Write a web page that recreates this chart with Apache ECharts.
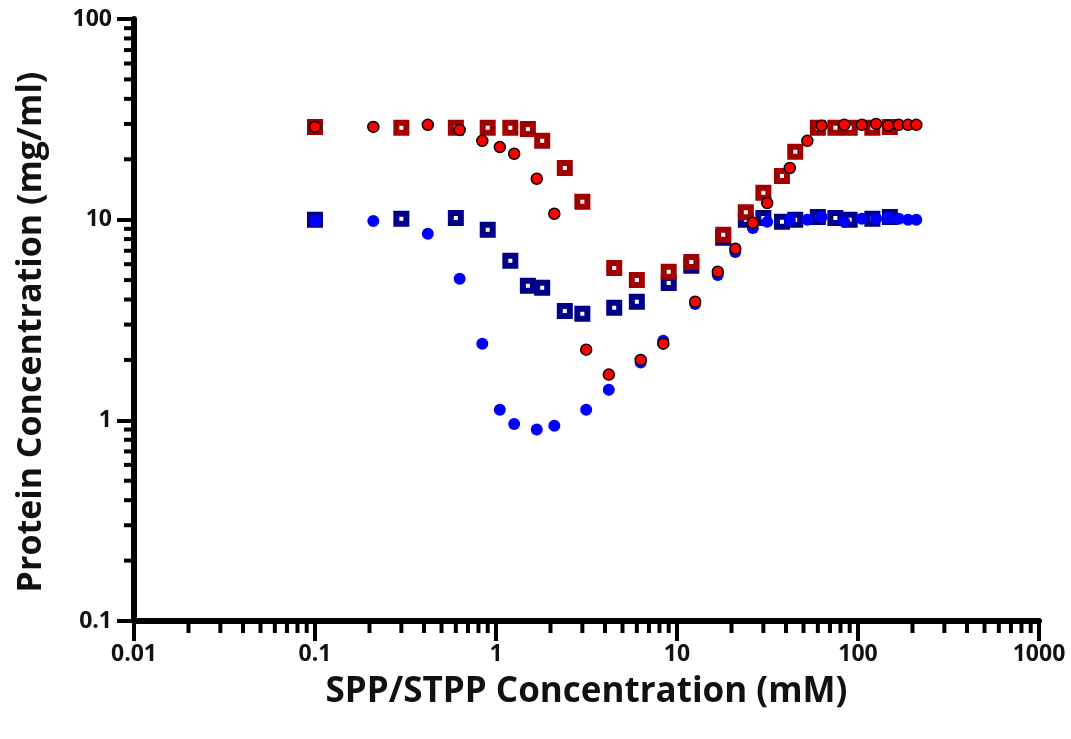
<!DOCTYPE html>
<html>
<head>
<meta charset="utf-8">
<script src="https://cdn.jsdelivr.net/npm/echarts@6/dist/echarts.min.js"></script>
<style>
html,body{margin:0;padding:0;background:#fff;}
#chart{width:1071px;height:739px;}
</style>
</head>
<body>
<div id="chart"></div>
<script>
// ---- data ----
const squareX = [0.1, 0.3, 0.6, 0.9, 1.2, 1.5, 1.8, 2.4, 3, 4.5, 6, 9, 12, 18, 24, 30, 38, 45, 60, 75, 90, 120, 150];
const redSquareY = [29.0, 28.7, 28.7, 28.7, 28.7, 28.3, 24.7, 18.1, 12.3, 5.75, 5.0, 5.5, 6.16, 8.4, 10.9, 13.6, 16.5, 21.8, 28.7, 28.7, 28.7, 28.7, 29.0];
const blueSquareY = [10.0, 10.1, 10.2, 8.9, 6.24, 4.68, 4.58, 3.51, 3.40, 3.64, 3.90, 4.84, 5.89, 8.12, 10.0, 10.2, 9.75, 10.0, 10.3, 10.2, 10.0, 10.1, 10.3];
const circleX = [0.1, 0.21, 0.42, 0.63, 0.84, 1.05, 1.26, 1.68, 2.1, 3.15, 4.2, 6.3, 8.4, 12.6, 16.8, 21, 26.25, 31.5, 42, 52.5, 63, 84, 105, 126, 147, 168, 189, 210];
const redCircleY = [29.0, 29.0, 29.7, 28.0, 24.7, 23.0, 21.3, 16.0, 10.7, 2.25, 1.69, 2.0, 2.41, 3.9, 5.5, 7.16, 9.64, 12.1, 18.1, 24.7, 29.4, 29.7, 29.7, 30.0, 29.4, 29.7, 29.7, 29.7];
const blueCircleY = [9.86, 9.86, 8.5, 5.07, 2.41, 1.13, 0.96, 0.90, 0.94, 1.13, 1.42, 1.94, 2.49, 3.8, 5.3, 6.9, 9.1, 9.75, 10.0, 10.0, 10.3, 9.75, 10.1, 10.1, 10.2, 10.1, 10.0, 10.0];
const xTickLabels = ['0.01', '0.1', '1', '10', '100', '1000'];
const yTickLabels = ['0.1', '1', '10', '100'];
const xTitle = 'SPP/STPP Concentration (mM)';
const yTitle = 'Protein Concentration (mg/ml)';

const xMin = 0.01, xMax = 1000, yMin = 0.1, yMax = 100;

// minor tick positions (2..9 x 10^k) for log axes
function minorVals(lo, hi) {
  const out = [];
  for (let d = lo; d < hi; d *= 10) {
    for (let m = 2; m <= 9; m++) out.push(+(m * d).toPrecision(3));
  }
  return out;
}
const xMinor = minorVals(xMin, xMax);
const yMinor = minorVals(yMin, yMax);

function pair(xs, ys) { return xs.map((x, i) => [x, ys[i]]); }

const FONT = '"Open Sans", "DejaVu Sans", sans-serif';
const chart = echarts.init(document.getElementById('chart'), null, {renderer: 'canvas'});

const tickColor = '#000';
const option = {
  backgroundColor: '#fff',
  animation: false,
  grid: {left: 134, right: 32, top: 19, bottom: 118, containLabel: false},
  xAxis: {
    type: 'log', logBase: 10, min: xMin, max: xMax,
    name: xTitle, nameLocation: 'middle', nameGap: 54,
    nameTextStyle: {fontFamily: FONT, fontWeight: 'bold', fontSize: 35, color: '#111'},
    axisLine: {show: true, onZero: false, lineStyle: {color: tickColor, width: 6}},
    axisTick: {show: true, inside: false, length: 20, lineStyle: {color: tickColor, width: 4}},
    axisLabel: {margin: 22, fontFamily: FONT, fontWeight: 'bold', fontSize: 23, color: '#111',
      formatter: v => { const i = Math.round(Math.log10(v)) + 2; return xTickLabels[i] || ''; }},
    splitLine: {show: false}, minorTick: {show: false}
  },
  yAxis: {
    type: 'log', logBase: 10, min: yMin, max: yMax,
    name: yTitle, nameLocation: 'middle', nameGap: 86, nameRotate: 90,
    nameTextStyle: {fontFamily: FONT, fontWeight: 'bold', fontSize: 34, color: '#111', padding: [0, 24, 0, 0]},
    axisLine: {show: true, onZero: false, lineStyle: {color: tickColor, width: 6}},
    axisTick: {show: true, inside: false, length: 17, lineStyle: {color: tickColor, width: 4}},
    axisLabel: {margin: 22, fontFamily: FONT, fontWeight: 'bold', fontSize: 23, color: '#111',
      formatter: v => { const i = Math.round(Math.log10(v)) + 1; return yTickLabels[i] || ''; }},
    splitLine: {show: false}, minorTick: {show: false}
  },
  series: [
    {
      type: 'custom', name: 'xMinor', coordinateSystem: 'cartesian2d', clip: false, silent: true, z: 1,
      data: xMinor.map(v => [v, yMin]),
      renderItem: (params, api) => {
        const p = api.coord([api.value(0), api.value(1)]);
        return {type: 'line', shape: {x1: p[0], y1: p[1] + 2, x2: p[0], y2: p[1] + 12},
          style: {stroke: tickColor, lineWidth: 4}};
      }
    },
    {
      type: 'custom', name: 'yMinor', coordinateSystem: 'cartesian2d', clip: false, silent: true, z: 1,
      data: yMinor.map(v => [xMin, v]),
      renderItem: (params, api) => {
        const p = api.coord([api.value(0), api.value(1)]);
        return {type: 'line', shape: {x1: p[0] - 2, y1: p[1], x2: p[0] - 10, y2: p[1]},
          style: {stroke: tickColor, lineWidth: 4}};
      }
    },
    {
      type: 'scatter', name: 'Blue squares', data: pair(squareX, blueSquareY), z: 3,
      symbol: 'rect', symbolSize: 10,
      itemStyle: {color: '#ffffff', borderColor: '#000088', borderWidth: 6, opacity: 1}
    },
    {
      type: 'scatter', name: 'Red squares', data: pair(squareX, redSquareY), z: 4,
      symbol: 'rect', symbolSize: 10,
      itemStyle: {color: '#ffffff', borderColor: '#a00000', borderWidth: 6, opacity: 1}
    },
    {
      type: 'scatter', name: 'Blue circles', data: pair(circleX, blueCircleY), z: 5,
      symbol: 'circle', symbolSize: 12,
      itemStyle: {color: '#0000ff', opacity: 1}
    },
    {
      type: 'scatter', name: 'Red circles', data: pair(circleX, redCircleY), z: 6,
      symbol: 'circle', symbolSize: 11,
      itemStyle: {color: '#ff0000', borderColor: '#000000', borderWidth: 1.5, opacity: 1}
    }
  ]
};
chart.setOption(option);
</script>
</body>
</html>
